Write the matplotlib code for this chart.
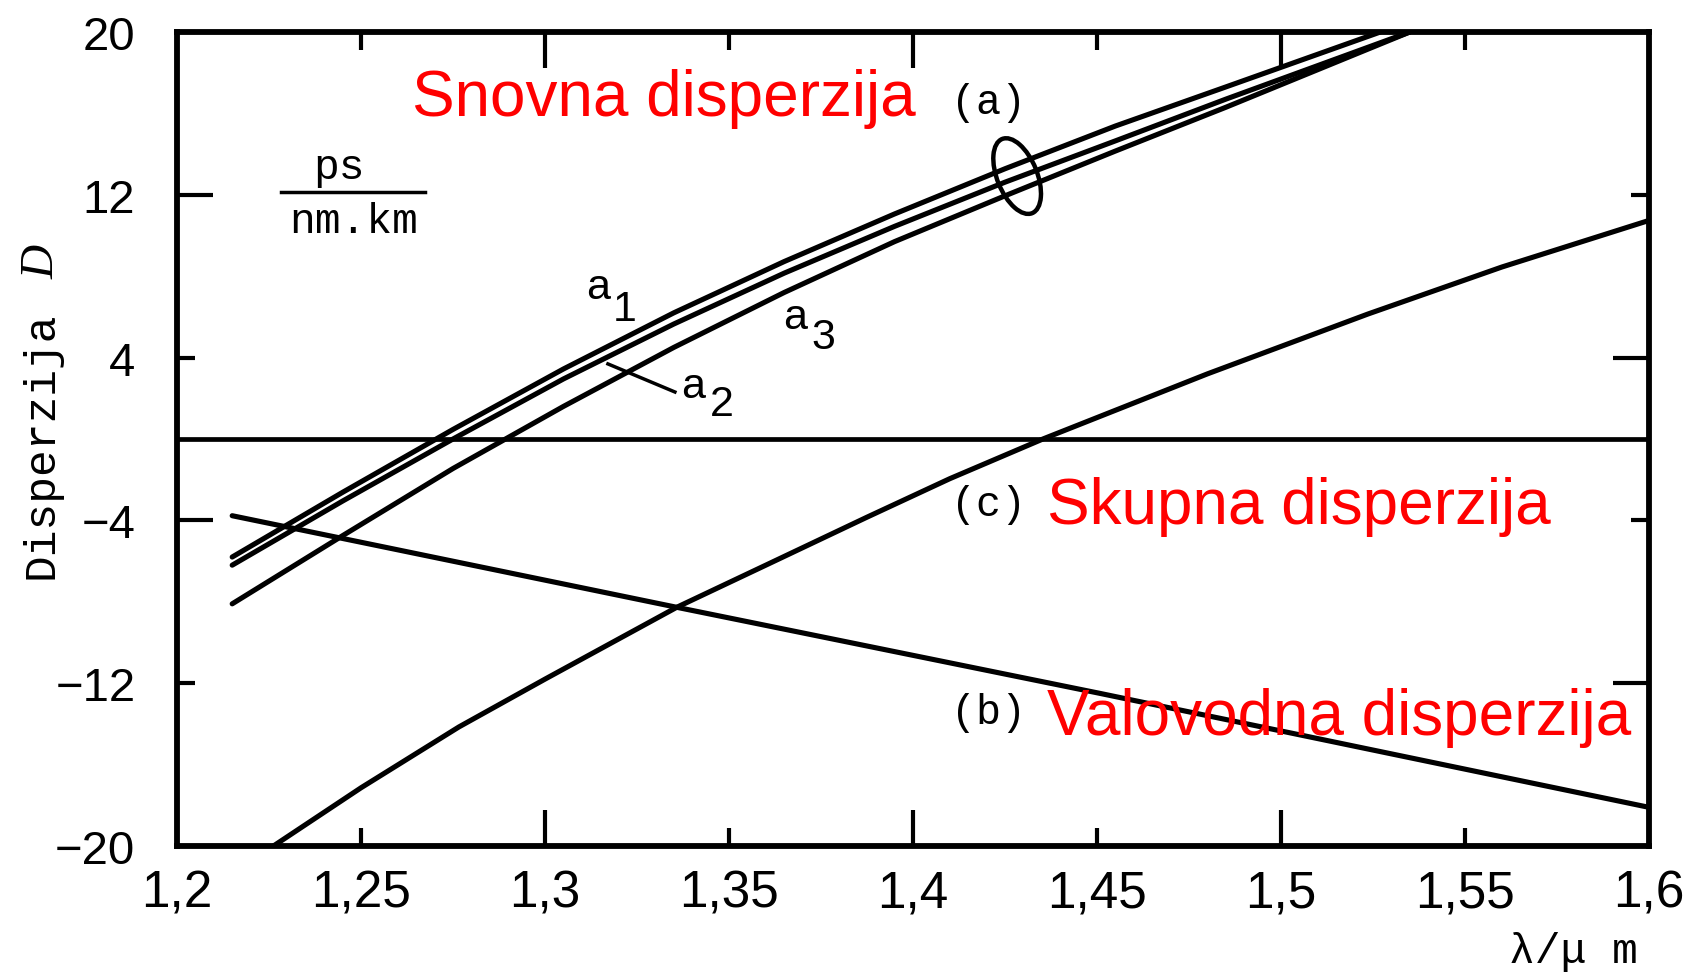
import numpy as np
import matplotlib
matplotlib.use("Agg")
import matplotlib.pyplot as plt
from matplotlib.patches import Ellipse
from matplotlib.transforms import ScaledTranslation

# material dispersion (a): three fibres a1, a2, a3
a1_x = [1.215, 1.245, 1.275, 1.305, 1.335, 1.365, 1.395, 1.425, 1.455, 1.485, 1.527]
a1_y = [-5.8, -2.62, 0.47, 3.44, 6.2, 8.72, 11.06, 13.28, 15.38, 17.3, 20.0]
a2_x = [1.215, 1.245, 1.275, 1.305, 1.335, 1.365, 1.395, 1.425, 1.455, 1.485, 1.535]
a2_y = [-6.2, -3.05, 0.0, 2.95, 5.65, 8.15, 10.45, 12.62, 14.65, 16.7, 20.0]
a3_x = [1.215, 1.245, 1.275, 1.305, 1.335, 1.365, 1.395, 1.425, 1.455, 1.485, 1.535]
a3_y = [-8.1, -4.75, -1.45, 1.6, 4.5, 7.2, 9.7, 11.95, 14.15, 16.3, 20.0]

# waveguide dispersion (b)
b_x = [1.215, 1.3358, 1.4508, 1.60]
b_y = [-3.77, -8.27, -12.5, -18.1]

# total dispersion (c)
c_x = [1.2262, 1.25, 1.2766, 1.30, 1.3358, 1.36, 1.3874, 1.41, 1.4353, 1.48, 1.5236, 1.56, 1.60]
c_y = [-20.0, -17.14, -14.15, -11.8, -8.27, -6.2, -3.85, -1.95, 0.0, 3.2, 6.14, 8.45, 10.74]

x_major = [1.2, 1.3, 1.4, 1.5, 1.6]
x_major_labels = ["1,2", "1,3", "1,4", "1,5", "1,6"]
x_minor = [1.25, 1.35, 1.45, 1.55]
x_minor_labels = ["1,25", "1,35", "1,45", "1,55"]
y_major = [-20, -4, 12]
y_major_labels = ["\u221220", "\u22124", "12"]
y_minor = [-12, 4, 20]
y_minor_labels = ["\u221212", "4", "20"]

W, H = 1702, 978
fig = plt.figure(figsize=(W / 100, H / 100), dpi=100)
ax = fig.add_axes([177 / W, 1 - 847 / H, (1649 - 177) / W, (847 - 33) / H])

def fp(px, py):
    return px / W, 1 - py / H

lw = 3.7
for xs, ys in [(a1_x, a1_y), (a2_x, a2_y), (a3_x, a3_y), (b_x, b_y), (c_x, c_y)]:
    ax.plot(xs, ys, color="black", lw=lw, solid_capstyle="round", solid_joinstyle="round")
ax.axhline(0, color="black", lw=3.4)

ax.set_xlim(1.2, 1.6)
ax.set_ylim(-20, 20)
for s in ax.spines.values():
    s.set_linewidth(4.2)

tick_font = dict(family="Liberation Sans")
ax.set_xticks(x_major, labels=x_major_labels, **tick_font)
ax.set_xticks(x_minor, labels=x_minor_labels, minor=True, **tick_font)
ax.set_yticks(y_major, labels=y_major_labels, **tick_font)
ax.set_yticks(y_minor, labels=y_minor_labels, minor=True, **tick_font)
ax.tick_params(axis="x", which="both", direction="in", top=True, labelsize=37, pad=16, width=3)
ax.tick_params(axis="x", which="major", length=26)
ax.tick_params(axis="x", which="minor", length=13)
ax.tick_params(axis="y", which="both", direction="in", right=False, labelsize=34, pad=30, width=3)
ax.tick_params(axis="y", which="major", length=26)
ax.tick_params(axis="y", which="minor", length=13)

# right side ticks alternate the other way
ax2 = ax.twinx()
ax2.set_ylim(-20, 20)
ax2.set_yticks([-12, 4])
ax2.set_yticks([-4, 12], minor=True)
ax2.tick_params(axis="y", which="both", direction="in", labelright=False, width=3)
ax2.tick_params(axis="y", which="major", length=26)
ax2.tick_params(axis="y", which="minor", length=13)
for s in ax2.spines.values():
    s.set_visible(False)

# ellipse around the (a) bundle
ell_trans = fig.dpi_scale_trans + ScaledTranslation(1.4283, 12.92, ax.transData)
ax.add_patch(Ellipse((0, 0), 0.40, 0.80, angle=22, transform=ell_trans,
                     fill=False, lw=3.2, color="black"))

# leader line for a2
ax.plot([1.3171, 1.3353], [3.69, 2.31], color="black", lw=2.5)

mono = "Liberation Mono"
sans = "Liberation Sans"

# curve labels
for ch, (px, py) in [("a", (598, 288)), ("1", (625, 310)),
                     ("a", (693, 387)), ("2", (722, 405)),
                     ("a", (795, 318)), ("3", (823, 338))]:
    fig.text(*fp(px, py), ch, ha="center", va="center", fontsize=31, family=sans)

for t, (px, py) in [("(a)", (988, 103)), ("(c)", (988, 505)), ("(b)", (988, 713))]:
    fig.text(*fp(px, py), t, ha="center", va="center", fontsize=30, family=mono)

red = "#ff0000"
fig.text(*fp(412, 116), "Snovna disperzija", ha="left", va="baseline", color=red,
         fontsize=46, family=sans)
fig.text(*fp(1047, 524), "Skupna disperzija", ha="left", va="baseline", color=red,
         fontsize=46, family=sans)
fig.text(*fp(1047, 735), "Valovodna disperzija", ha="left", va="baseline", color=red,
         fontsize=46, family=sans)

# unit fraction
fig.text(*fp(339, 168), "ps", ha="center", va="center", fontsize=31, family=mono)
fig.add_artist(plt.Line2D([281 / W, 425 / W], [1 - 193 / H, 1 - 193 / H], color="black", lw=2.5))
fig.text(*fp(354, 222), "nm.km", ha="center", va="center", fontsize=31, family=mono)

# axis labels
fig.text(*fp(41, 445), "Disperzija", rotation=90, ha="center", va="center",
         fontsize=32, family=mono)
fig.text(*fp(42, 262), "D", rotation=90, ha="center", va="center",
         fontsize=34, family="Liberation Serif", style="italic")
fig.text(*fp(1573, 952), "λ/μ m", ha="center", va="center", fontsize=31, family=mono)

fig.savefig("out.png", dpi=100, facecolor="white")
